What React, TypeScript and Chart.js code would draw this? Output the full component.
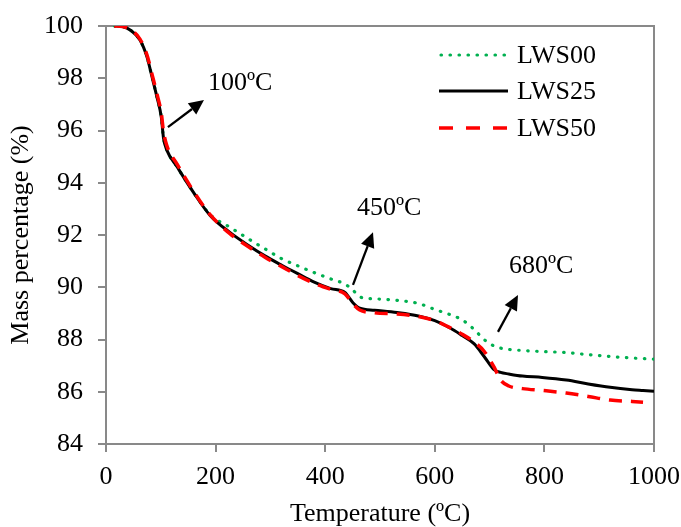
import React, { useEffect, useRef } from 'react';
import { Chart, registerables } from 'chart.js';

Chart.register(...registerables);

// ---- data ----
const temperatures = [15, 30, 44, 62, 75, 84, 93, 101, 105, 111, 130, 159, 190, 226, 260, 290, 320, 350, 380, 410, 436, 451, 463, 490, 531, 570, 600, 628, 650, 672, 690, 708, 720, 735, 760, 796, 840, 880, 920, 960, 980, 1000];
const lws00 = [100, 99.98, 99.85, 99.46, 98.8, 98.05, 97.28, 96.5, 95.7, 95.25, 94.6, 93.65, 92.78, 92.3, 91.85, 91.47, 91.1, 90.82, 90.56, 90.32, 90.12, 89.88, 89.63, 89.56, 89.5, 89.38, 89.15, 88.95, 88.75, 88.38, 88.0, 87.75, 87.67, 87.62, 87.58, 87.54, 87.5, 87.42, 87.35, 87.29, 87.27, 87.25];
const lws25 = [100, 99.98, 99.85, 99.46, 98.8, 98.05, 97.28, 96.5, 95.7, 95.25, 94.6, 93.65, 92.75, 92.1, 91.6, 91.2, 90.85, 90.52, 90.2, 89.95, 89.8, 89.4, 89.2, 89.12, 89.03, 88.9, 88.72, 88.44, 88.15, 87.83, 87.35, 86.85, 86.74, 86.68, 86.6, 86.55, 86.45, 86.3, 86.17, 86.08, 86.05, 86.02];
const lws50 = [100, 99.98, 99.87, 99.5, 98.88, 98.15, 97.4, 96.65, 95.95, 95.42, 94.7, 93.7, 92.78, 92.05, 91.55, 91.15, 90.8, 90.45, 90.15, 89.92, 89.75, 89.35, 89.13, 89.02, 88.98, 88.88, 88.72, 88.45, 88.2, 87.9, 87.55, 86.95, 86.45, 86.22, 86.12, 86.05, 85.95, 85.82, 85.68, 85.63, 85.6, null];
const seriesLabels = ['LWS00', 'LWS25', 'LWS50'];

const xMin = 0, xMax = 1000, xStep = 200;
const yMin = 84, yMax = 100, yStep = 2;
const xTitle = 'Temperature (ºC)';
const yTitle = 'Mass percentage (%)';

// annotations (data units): label, tail [T, mass], tip [T, mass], text anchor [T, mass]
const annotationLabels = ['100ºC', '450ºC', '680ºC'];
const arrowTails = [[113, 96.13], [450.7, 90.09], [715.3, 88.29]];
const arrowTips = [[178.8, 97.17], [487.2, 92.11], [751.8, 89.7]];
const textAnchors = [[186, 97.82], [458, 93.03], [735.4, 90.79]];

const FONT = '"Liberation Serif", "Times New Roman", serif';
const FS = 26;
const AXIS_GRAY = '#898989';
const GREEN = '#00B050';
const RED = '#FF0000';
const BLACK = '#000000';

const dashStyles = [
  { color: GREEN, dash: [0.5, 8.5], cap: 'round' as CanvasLineCap, width: 3.2 },
  { color: BLACK, dash: [] as number[], cap: 'butt' as CanvasLineCap, width: 3 },
  { color: RED, dash: [13, 9], cap: 'butt' as CanvasLineCap, width: 3.5 },
];

const decorPlugin = {
  id: 'decor',
  beforeDatasetsDraw(chart: any) {
    const { ctx, chartArea } = chart;
    ctx.save();
    ctx.strokeStyle = AXIS_GRAY;
    ctx.lineWidth = 2;
    ctx.beginPath();
    ctx.moveTo(chartArea.left, chartArea.top);
    ctx.lineTo(chartArea.right, chartArea.top);
    ctx.lineTo(chartArea.right, chartArea.bottom);
    ctx.stroke();
    ctx.restore();
  },
  afterDraw(chart: any) {
    const { ctx, scales } = chart;
    const xs = scales.x, ys = scales.y;
    ctx.save();
    ctx.strokeStyle = '#000';
    ctx.fillStyle = '#000';
    ctx.lineWidth = 2.3;
    for (let i = 0; i < arrowTails.length; i++) {
      const x1 = xs.getPixelForValue(arrowTails[i][0]);
      const y1 = ys.getPixelForValue(arrowTails[i][1]);
      const x2 = xs.getPixelForValue(arrowTips[i][0]);
      const y2 = ys.getPixelForValue(arrowTips[i][1]);
      const ang = Math.atan2(y2 - y1, x2 - x1);
      const headLen = 15, headW = 7;
      const bx = x2 - headLen * Math.cos(ang);
      const by = y2 - headLen * Math.sin(ang);
      ctx.beginPath();
      ctx.moveTo(x1, y1);
      ctx.lineTo(bx, by);
      ctx.stroke();
      ctx.beginPath();
      ctx.moveTo(x2, y2);
      ctx.lineTo(bx + headW * Math.sin(ang), by - headW * Math.cos(ang));
      ctx.lineTo(bx - headW * Math.sin(ang), by + headW * Math.cos(ang));
      ctx.closePath();
      ctx.fill();
      ctx.font = `${FS}px ${FONT}`;
      ctx.textAlign = 'left';
      ctx.textBaseline = 'middle';
      ctx.fillText(annotationLabels[i], xs.getPixelForValue(textAnchors[i][0]), ys.getPixelForValue(textAnchors[i][1]));
    }
    // legend
    const legX1 = 439, legX2 = 508, textX = 517;
    const rows = [55, 91, 128];
    chart.data.datasets.forEach((ds: any, i: number) => {
      const st = dashStyles[i];
      ctx.strokeStyle = st.color;
      ctx.lineWidth = st.width;
      ctx.lineCap = st.cap;
      ctx.setLineDash(i === 2 ? [14, 13] : st.dash);
      ctx.beginPath();
      ctx.moveTo(legX1 + (i === 0 ? 2 : 0), rows[i]);
      ctx.lineTo(legX2, rows[i]);
      ctx.stroke();
      ctx.setLineDash([]);
      ctx.fillStyle = '#000';
      ctx.font = `${FS}px ${FONT}`;
      ctx.textAlign = 'left';
      ctx.textBaseline = 'middle';
      ctx.fillText(ds.label, textX, rows[i] + 1);
    });
    ctx.restore();
  },
};

export default function App() {
  const canvasRef = useRef<HTMLCanvasElement | null>(null);

  useEffect(() => {
    document.body.style.margin = '0';
    const canvas = canvasRef.current;
    if (!canvas) return;
    const seriesValues = [lws00, lws25, lws50];
    const orders = [3, 2, 1];
    const chart = new Chart(canvas, {
      type: 'line',
      data: {
        datasets: seriesValues.map((vals, i) => ({
          label: seriesLabels[i],
          data: temperatures.map((t, j) => ({ x: t, y: vals[j] })),
          borderColor: dashStyles[i].color,
          borderWidth: dashStyles[i].width,
          borderDash: dashStyles[i].dash,
          borderCapStyle: dashStyles[i].cap,
          pointRadius: 0,
          fill: false,
          spanGaps: false,
          cubicInterpolationMode: 'monotone',
          order: orders[i],
        })),
      },
      options: {
        animation: false,
        responsive: false,
        maintainAspectRatio: false,
        devicePixelRatio: 1,
        layout: { padding: { top: 26, right: 27, left: 0, bottom: 0 } },
        plugins: {
          legend: { display: false },
          tooltip: { enabled: false },
        },
        scales: {
          x: {
            type: 'linear',
            min: xMin,
            max: xMax,
            afterFit: (s: any) => { s.height = 83; s.paddingLeft = 0; s.paddingRight = 0; },
            ticks: {
              stepSize: xStep,
              color: '#000',
              font: { family: FONT, size: FS },
              padding: 10,
              maxRotation: 0,
              callback: (v: any) => String(v),
            },
            grid: {
              drawOnChartArea: false,
              drawTicks: true,
              tickLength: 8,
              color: AXIS_GRAY,
              lineWidth: 2,
            },
            border: { color: AXIS_GRAY, width: 2 },
            title: {
              display: true,
              text: xTitle,
              color: '#000',
              font: { family: FONT, size: FS, lineHeight: 1 },
              padding: { top: 0, bottom: 0 },
            },
          },
          y: {
            type: 'linear',
            min: yMin,
            max: yMax,
            afterFit: (s: any) => { s.width = 106; s.paddingTop = 0; s.paddingBottom = 0; },
            ticks: {
              stepSize: yStep,
              color: '#000',
              font: { family: FONT, size: FS },
              padding: 15,
              callback: (v: any) => String(v),
            },
            grid: {
              drawOnChartArea: false,
              drawTicks: true,
              tickLength: 8,
              color: AXIS_GRAY,
              lineWidth: 2,
            },
            border: { color: AXIS_GRAY, width: 2 },
            title: {
              display: true,
              text: yTitle,
              color: '#000',
              font: { family: FONT, size: FS, lineHeight: 1 },
              padding: { top: 8, bottom: 0 },
            },
          },
        },
      },
      plugins: [decorPlugin],
    } as any);
    return () => chart.destroy();
  }, []);

  return (
    <div style={{ position: 'absolute', left: 0, top: 0, width: 681, height: 527 }}>
      <canvas ref={canvasRef} width={681} height={527} style={{ width: 681, height: 527, display: 'block' }} />
    </div>
  );
}
